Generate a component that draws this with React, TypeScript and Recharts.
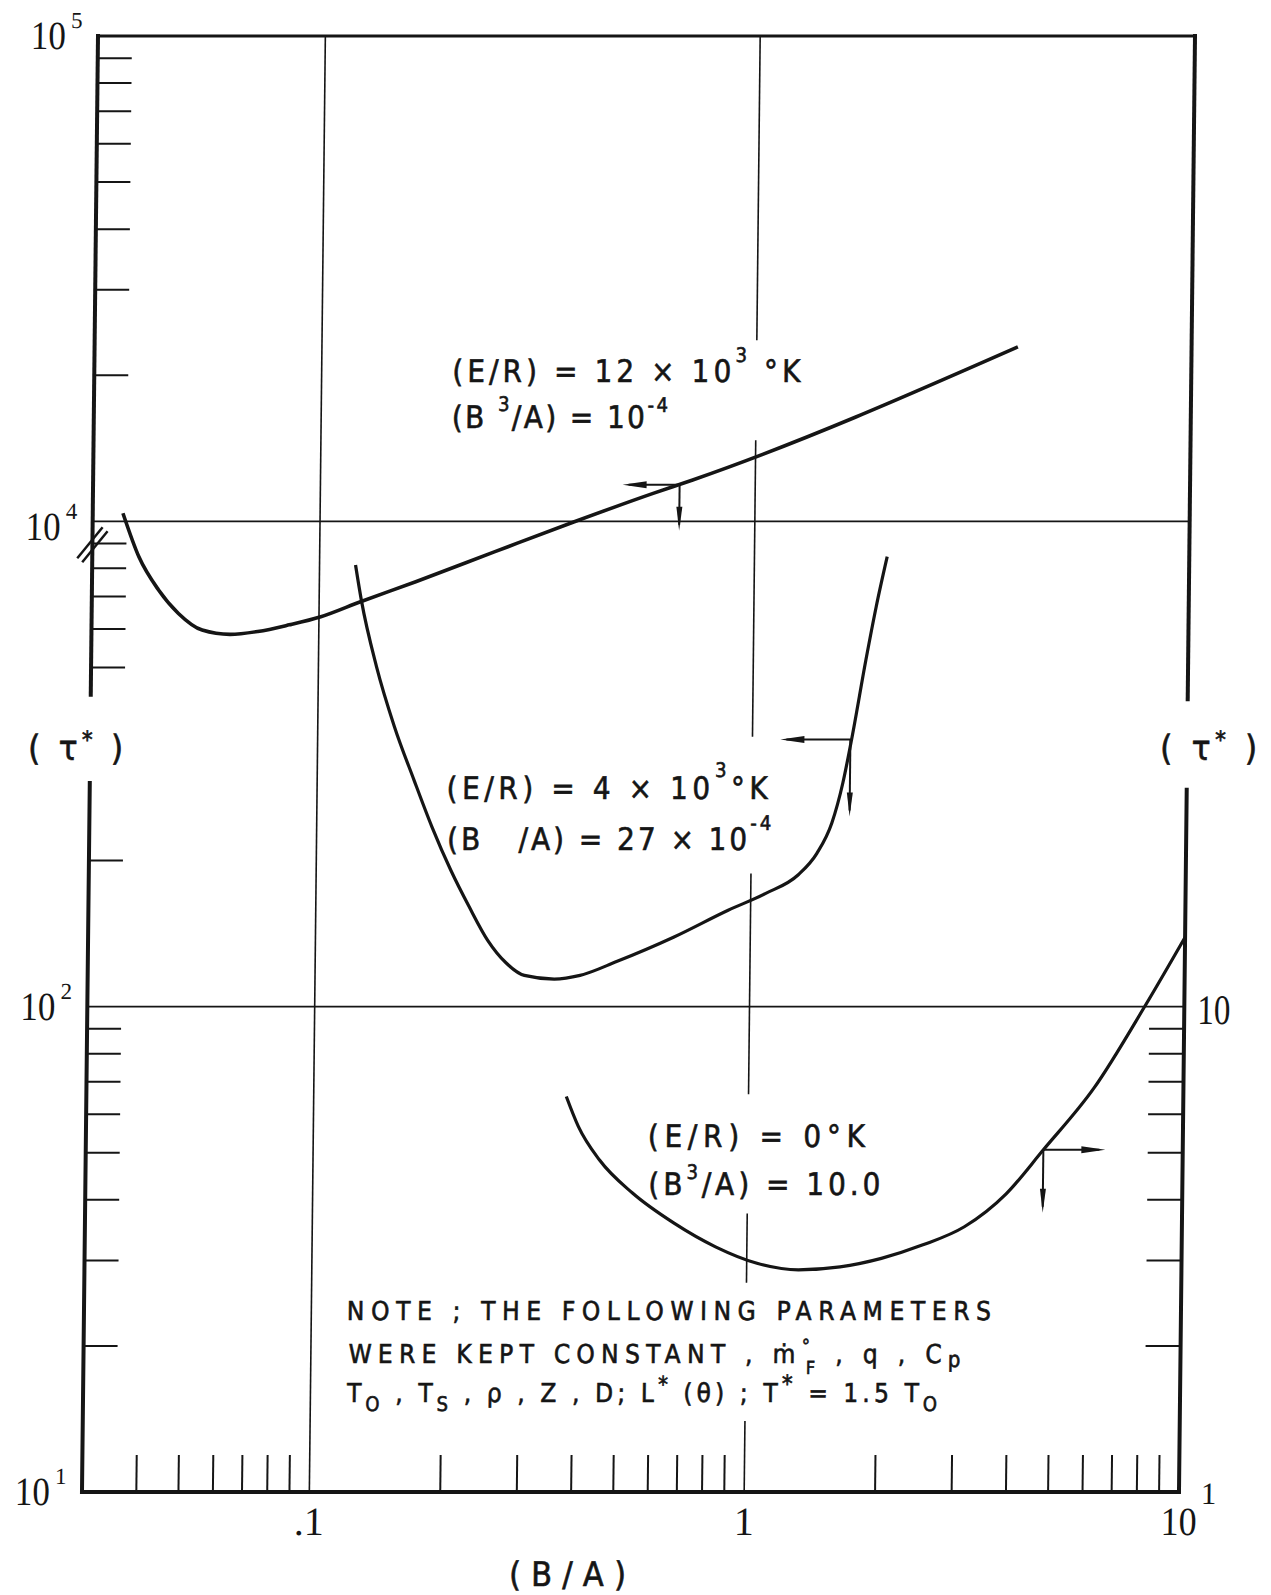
import React from "react";
import { LineChart, Line, XAxis, YAxis, ReferenceLine, ReferenceDot } from "recharts";

// ignition delay tau* against (B/A), three activation energies
const TOP_X = [0.0352, 0.0384, 0.0427, 0.0475, 0.0539, 0.0625, 0.0724, 0.0855, 0.101, 0.1245, 0.1666, 0.253, 0.3845, 0.5826, 0.7178, 3.986];
const TOP_TAU = [10390, 8450, 7220, 6460, 5970, 5850, 5930, 6120, 6360, 6830, 7510, 8660, 9980, 11420, 12170, 22880];

const MID_X = [0.121, 0.125, 0.136, 0.15, 0.167, 0.184, 0.204, 0.225, 0.249, 0.275, 0.303, 0.355, 0.407, 0.495, 0.666, 0.888, 1.08, 1.285, 1.416, 1.53, 1.618, 1.695, 1.815, 1.911, 2.02];
const MID_TAU = [813, 689, 502, 378, 293, 235, 191, 161, 137, 123, 116, 114, 116, 124, 139, 158, 171, 187, 207, 239, 289, 360, 518, 667, 846];

const LOW_X = [0.381, 0.407, 0.456, 0.544, 0.679, 0.847, 1.056, 1.316, 1.64, 2.04, 2.54, 3.16, 3.93, 4.78, 6.23, 8.12, 10];
const LOW_TAU = [6.53, 5.66, 4.83, 4.13, 3.58, 3.2, 2.96, 2.87, 2.91, 3.03, 3.23, 3.52, 4.11, 5.07, 6.8, 10.03, 13.9];

// axis ticks
const X_TICKS = [0.04, 0.05, 0.06, 0.07, 0.08, 0.09, 0.1, 0.2, 0.3, 0.4, 0.5, 0.6, 0.7, 0.8, 0.9, 1, 2, 3, 4, 5, 6, 7, 8, 9, 10];
const X_MAJOR = [0.1, 1, 10];
const X_MAJOR_TEXT = [".1", "1", "10"];

// left scale is broken: 10^1..10^2, 10^2..10^4 squeezed into one cycle, 10^4..10^5
const LEFT_TICKS = [1, 2, 3, 4, 5, 6, 7, 8, 9, 10, 20, 50, 60, 70, 80, 90, 100, 200, 300, 400, 500, 600, 700, 800, 900, 1000];
const LEFT_MAJOR = [1, 10, 100, 1000];
const LEFT_EXP = ["1", "2", "4", "5"];

const RIGHT_TICKS = [1, 2, 3, 4, 5, 6, 7, 8, 9, 10];
const RIGHT_MAJOR = [1, 10];
const RIGHT_TEXT = ["1", "10"];

// arrows pointing to the scale each curve is read on
const ARROW_X = [0.67, 1.68, 4.78];
const ARROW_TAU = [11900, 355, 5.07];
const ARROW_AXIS = ["left", "left", "right"];

const W = 1271;
const H = 1595;
const X_MIN = 0.03;
const X_MAX = 10;
const INK = "#151515";
const NUM_FONT = "'Liberation Serif', serif";
const TXT_FONT = "'DejaVu Sans Condensed', 'DejaVu Sans', sans-serif";

// arrow arm lengths (px) and direction
const ARROW_H = [57, 70, 62];
const ARROW_V = [46, 77, 63];
const ARROW_DIR = [-1, -1, 1];

// frame/grid pieces, in plotted units (gaps where lettering sits)
const LEFT_AXIS_RUNS = [[1, 28.9], [43.9, 1000]];
const RIGHT_AXIS_RUNS = [[1, 28], [43, 1000]];
const UNIT_LINE_RUNS = [[1, 1.4], [2.7, 3.75], [6.6, 18.8], [36, 147], [236, 1000]];

// position on the broken left scale
const leftUnits = (tau: number) => (tau >= 1000 ? tau / 100 : tau / 10);

const topRows = TOP_X.map((x, i) => ({ x, u: leftUnits(TOP_TAU[i]) }));
const midRows = MID_X.map((x, i) => ({ x, u: leftUnits(MID_TAU[i]) }));
const lowRows = LOW_X.map((x, i) => ({ x, u: LOW_TAU[i] }));

function XTick(p: any) {
  const { x, y, payload } = p;
  const i = X_MAJOR.indexOf(payload.value);
  if (i < 0) {
    return <line x1={x} y1={y} x2={x} y2={y - 37} stroke={INK} strokeWidth={2} />;
  }
  const txt = X_MAJOR_TEXT[i];
  return (
    <text x={x} y={y + 43} textAnchor="middle" fontFamily={NUM_FONT} fontSize={40} fill={INK}
      textLength={txt === "10" ? 36 : undefined} lengthAdjust="spacingAndGlyphs">
      {txt}
    </text>
  );
}

function LeftTick(p: any) {
  const { x, y, payload } = p;
  const v = payload.value;
  const i = LEFT_MAJOR.indexOf(v);
  if (i < 0) {
    return <line x1={x} y1={y} x2={x + 34} y2={y} stroke={INK} strokeWidth={2} />;
  }
  const dy = v === 100 ? 6 : 0;
  return (
    <g fill={INK} fontFamily={NUM_FONT}>
      <text x={x - 32} y={y + 13 + dy} textAnchor="end" fontSize={40} textLength={35} lengthAdjust="spacingAndGlyphs">10</text>
      <text x={x - 27} y={y - 8 + dy} fontSize={23}>{LEFT_EXP[i]}</text>
      {v === 100 && (
        <g stroke={INK} strokeWidth={2.5}>
          <line x1={x - 15} y1={y + 37} x2={x + 10} y2={y + 6} />
          <line x1={x - 10} y1={y + 41} x2={x + 15} y2={y + 10} />
        </g>
      )}
    </g>
  );
}

function RightTick(p: any) {
  const { x, y, payload } = p;
  const i = RIGHT_MAJOR.indexOf(payload.value);
  if (i < 0) {
    return <line x1={x} y1={y} x2={x - 35} y2={y} stroke={INK} strokeWidth={2} />;
  }
  if (RIGHT_TEXT[i] === "1") {
    return <text x={x + 22} y={y + 12} fontFamily={NUM_FONT} fontSize={31} fill={INK}>1</text>;
  }
  return (
    <text x={x + 13} y={y + 17} fontFamily={NUM_FONT} fontSize={42} fill={INK} textLength={33} lengthAdjust="spacingAndGlyphs">
      {RIGHT_TEXT[i]}
    </text>
  );
}

function Arrow(p: any) {
  const { cx, cy, dir, h, v } = p;
  const tipX = cx + dir * h;
  const tipY = cy + v;
  return (
    <g>
      <line x1={cx} y1={cy} x2={tipX - dir * 6} y2={cy} stroke={INK} strokeWidth={2} />
      <polygon points={`${tipX},${cy} ${tipX - dir * 24},${cy - 3.5} ${tipX - dir * 24},${cy + 3.5}`} fill={INK} />
      <line x1={cx} y1={cy} x2={cx} y2={tipY - 6} stroke={INK} strokeWidth={2} />
      <polygon points={`${cx},${tipY} ${cx - 3},${tipY - 24} ${cx + 3},${tipY - 24}`} fill={INK} />
    </g>
  );
}

function Lettering() {
  const t = { fontFamily: TXT_FONT, fill: INK, stroke: INK, strokeWidth: 0.6, lengthAdjust: "spacing" as const };
  return (
    <svg width={W} height={H} style={{ position: "absolute", left: 0, top: 0, pointerEvents: "none" }}>
      <text {...t} x={456} y={382} fontSize={31} textLength={348}>
        (E/R) = 12 × 10<tspan dy={-20} fontSize={20}>3</tspan><tspan dy={20}> °K</tspan>
      </text>
      <text {...t} x={456} y={428} fontSize={31} textLength={216}>
        (B <tspan dy={-17} fontSize={20}>3</tspan><tspan dy={17}>/A) = 10</tspan><tspan dy={-16} fontSize={20}>-4</tspan>
      </text>

      <text {...t} x={455} y={799} fontSize={31} textLength={321}>
        (E/R) = 4 × 10<tspan dy={-22} fontSize={20}>3</tspan><tspan dy={22}>°K</tspan>
      </text>
      <text {...t} x={456} y={850} fontSize={31} textLength={324}>
        (B{"\u00A0\u00A0\u00A0"}/A) = 27 × 10<tspan dy={-20} fontSize={20}>-4</tspan>
      </text>

      <text {...t} x={660} y={1147} fontSize={31} textLength={217}>(E/R) = 0°K</text>
      <text {...t} x={661} y={1195} fontSize={31} textLength={232}>
        (B<tspan dy={-16} fontSize={20}>3</tspan><tspan dy={16}>/A) = 10.0</tspan>
      </text>

      <text {...t} x={361} y={1320} fontSize={26} textLength={644}>NOTE ; THE FOLLOWING PARAMETERS</text>
      <text {...t} x={363} y={1363} fontSize={26} textLength={612}>
        WERE KEPT CONSTANT , ṁ<tspan dy={-11} fontSize={18}>°</tspan><tspan dx={-10} dy={22} fontSize={18}>F</tspan><tspan dy={-11}> , q , C</tspan><tspan dy={4} fontSize={22}>p</tspan>
      </text>
      <text {...t} x={362} y={1402} fontSize={26} textLength={590}>
        T<tspan dy={9} fontSize={20}>O</tspan><tspan dy={-9}> , T</tspan><tspan dy={9} fontSize={20}>S</tspan><tspan dy={-9}> , ρ , Z , D; L</tspan><tspan dy={-10} fontSize={22}>*</tspan><tspan dy={10}> (θ) ; T</tspan><tspan dy={-10} fontSize={24}>*</tspan><tspan dy={10}> = 1.5 T</tspan><tspan dy={9} fontSize={20}>O</tspan>
      </text>

      <text {...t} x={36} y={760} fontSize={35} textLength={95}>
        ( τ<tspan dy={-12} fontSize={24}>*</tspan><tspan dy={12}> )</tspan>
      </text>
      <text {...t} x={1168} y={760} fontSize={35} textLength={97}>
        ( τ<tspan dy={-12} fontSize={24}>*</tspan><tspan dy={12}> )</tspan>
      </text>
      <text {...t} x={526} y={1586} fontSize={34} textLength={117}>(B/A)</text>
    </svg>
  );
}

export default function App() {
  return (
    <div
      style={{
        position: "absolute",
        left: 0,
        top: 0,
        width: W,
        height: H,
        background: "#fff",
        transform: "skewX(-0.63deg)",
        transformOrigin: "0px 36px",
      }}
    >
      <LineChart width={W} height={H} margin={{ top: 36, right: 0, bottom: 0, left: 0 }}>
        <XAxis
          dataKey="x"
          type="number"
          scale="log"
          domain={[X_MIN, X_MAX]}
          allowDataOverflow
          ticks={X_TICKS}
          interval={0}
          height={103}
          axisLine={false}
          tickLine={false}
          tickSize={0}
          tickMargin={0}
          tick={XTick}
        />
        <YAxis
          yAxisId="left"
          type="number"
          scale="log"
          domain={[1, 1000]}
          allowDataOverflow
          ticks={LEFT_TICKS}
          interval={0}
          width={98}
          axisLine={false}
          tickLine={false}
          tickSize={0}
          tickMargin={0}
          tick={LeftTick}
        />
        <YAxis
          yAxisId="right"
          orientation="right"
          type="number"
          scale="log"
          domain={[1, 1000]}
          allowDataOverflow
          ticks={RIGHT_TICKS}
          interval={0}
          width={76}
          axisLine={false}
          tickLine={false}
          tickSize={0}
          tickMargin={0}
          tick={RightTick}
        />

        {/* grid */}
        <ReferenceLine yAxisId="left" y={10} stroke={INK} strokeWidth={1.6} ifOverflow="visible" />
        <ReferenceLine yAxisId="left" y={100} stroke={INK} strokeWidth={1.6} ifOverflow="visible" />
        <ReferenceLine yAxisId="left" segment={[{ x: 0.1, y: 1 }, { x: 0.1, y: 1000 }]} stroke={INK} strokeWidth={1.6} ifOverflow="visible" />
        {UNIT_LINE_RUNS.map(([a, b], i) => (
          <ReferenceLine key={"g" + i} yAxisId="left" segment={[{ x: 1, y: a }, { x: 1, y: b }]} stroke={INK} strokeWidth={1.6} ifOverflow="visible" />
        ))}

        {/* frame */}
        <ReferenceLine yAxisId="left" y={1000} stroke={INK} strokeWidth={2.8} ifOverflow="visible" />
        <ReferenceLine yAxisId="left" y={1} stroke={INK} strokeWidth={4} ifOverflow="visible" />
        {LEFT_AXIS_RUNS.map(([a, b], i) => (
          <ReferenceLine key={"l" + i} yAxisId="left" segment={[{ x: X_MIN, y: a }, { x: X_MIN, y: b }]} stroke={INK} strokeWidth={4} strokeLinecap="square" ifOverflow="visible" />
        ))}
        {RIGHT_AXIS_RUNS.map(([a, b], i) => (
          <ReferenceLine key={"r" + i} yAxisId="right" segment={[{ x: X_MAX, y: a }, { x: X_MAX, y: b }]} stroke={INK} strokeWidth={4} strokeLinecap="square" ifOverflow="visible" />
        ))}

        <Line data={topRows} dataKey="u" yAxisId="left" type="monotone" stroke={INK} strokeWidth={3.6} dot={false} isAnimationActive={false} />
        <Line data={midRows} dataKey="u" yAxisId="left" type="monotone" stroke={INK} strokeWidth={3.2} dot={false} isAnimationActive={false} />
        <Line data={lowRows} dataKey="u" yAxisId="right" type="monotone" stroke={INK} strokeWidth={3.2} dot={false} isAnimationActive={false} />

        {ARROW_X.map((x, i) => (
          <ReferenceDot
            key={"a" + i}
            yAxisId={ARROW_AXIS[i]}
            x={x}
            y={ARROW_AXIS[i] === "left" ? leftUnits(ARROW_TAU[i]) : ARROW_TAU[i]}
            r={0}
            ifOverflow="visible"
            shape={(p: any) => <Arrow cx={p.cx} cy={p.cy} dir={ARROW_DIR[i]} h={ARROW_H[i]} v={ARROW_V[i]} />}
          />
        ))}
      </LineChart>
      <Lettering />
    </div>
  );
}
